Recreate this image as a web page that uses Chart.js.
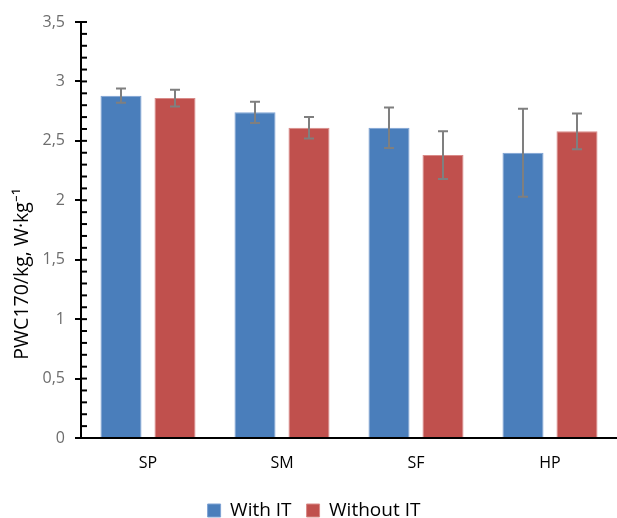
<!DOCTYPE html>
<html>
<head>
<meta charset="utf-8">
<script src="https://cdn.jsdelivr.net/npm/chart.js@4"></script>
<style>
  html, body { margin: 0; padding: 0; background: #fff; }
  #wrap { width: 617px; height: 518px; }
</style>
</head>
<body>
<div id="wrap"><canvas id="pwcChart" width="617" height="518"></canvas></div>
<script>
var categories = ['SP', 'SM', 'SF', 'HP'];
var withIT = [2.88, 2.74, 2.61, 2.40];
var withoutIT = [2.86, 2.61, 2.38, 2.58];
var withITErr = [0.06, 0.09, 0.17, 0.37];
var withoutITErr = [0.07, 0.09, 0.20, 0.15];
var yTitle = 'PWC170/kg, W·kg⁻¹';

var FONT = "'Open Sans', 'Liberation Sans', sans-serif";

function isMajor(v) {
    return Math.round(v * 10) % 5 === 0;
}

// error bars, inner tick marks on the y axis, y axis title (sits low, like the original)
var extrasPlugin = {
    id: 'extras',
    afterDatasetsDraw: function(chart) {
        var ctx = chart.ctx;
        var yScale = chart.scales.y;
        var errs = [withITErr, withoutITErr];
        ctx.save();
        ctx.strokeStyle = '#7f7f7f';
        ctx.lineWidth = 2;
        chart.data.datasets.forEach(function(ds, i) {
            var meta = chart.getDatasetMeta(i);
            meta.data.forEach(function(bar, j) {
                var v = ds.data[j];
                var e = errs[i][j];
                var yTop = yScale.getPixelForValue(v + e);
                var yBot = yScale.getPixelForValue(v - e);
                ctx.beginPath();
                ctx.moveTo(bar.x, yTop);
                ctx.lineTo(bar.x, yBot);
                ctx.moveTo(bar.x - 5, yTop);
                ctx.lineTo(bar.x + 5, yTop);
                ctx.moveTo(bar.x - 5, yBot);
                ctx.lineTo(bar.x + 5, yBot);
                ctx.stroke();
            });
        });
        // minor ticks inside the plot
        var x0 = chart.chartArea.left;
        ctx.strokeStyle = '#000';
        ctx.lineWidth = 2;
        yScale.ticks.forEach(function(t) {
            var y = yScale.getPixelForValue(t.value);
            ctx.beginPath();
            ctx.moveTo(x0, y);
            ctx.lineTo(x0 + 6, y);
            ctx.stroke();
        });
        ctx.restore();
    },
    afterDraw: function(chart) {
        var ctx = chart.ctx;
        var yScale = chart.scales.y;
        ctx.save();
        ctx.translate(22, yScale.getPixelForValue(1.38));
        ctx.rotate(-Math.PI / 2);
        ctx.fillStyle = '#000';
        ctx.font = '19.5px ' + FONT;
        ctx.textAlign = 'center';
        ctx.textBaseline = 'middle';
        ctx.fillText(yTitle, 0, 0);
        ctx.restore();
    }
};

var pwcChart = new Chart(document.getElementById('pwcChart').getContext('2d'), {
    type: 'bar',
    data: {
        labels: categories,
        datasets: [{
            label: 'With IT',
            data: withIT,
            backgroundColor: '#4a7ebb',
            borderColor: '#7ea3d4',
            borderWidth: 1
        }, {
            label: 'Without IT',
            data: withoutIT,
            backgroundColor: '#c0504d',
            borderColor: '#d98a88',
            borderWidth: 1
        }]
    },
    options: {
        responsive: false,
        animation: false,
        layout: { padding: { top: 22, right: 0, left: 11, bottom: -12 } },
        datasets: {
            bar: { categoryPercentage: 0.806, barPercentage: 0.76 }
        },
        scales: {
            x: {
                afterFit: function(scale) { scale.height = 48; },
                grid: { display: false },
                border: { display: true, color: '#000', width: 2 },
                ticks: {
                    color: '#000',
                    padding: 8,
                    font: { family: FONT, size: 16 }
                }
            },
            y: {
                min: 0,
                max: 3.5,
                afterFit: function(scale) { scale.width = 70; },
                grid: {
                    drawOnChartArea: false,
                    drawTicks: true,
                    tickLength: 6,
                    lineWidth: 2,
                    color: function(c) {
                        return c.tick && isMajor(c.tick.value) ? '#000' : 'rgba(0,0,0,0)';
                    }
                },
                border: { display: true, color: '#000', width: 2 },
                ticks: {
                    stepSize: 0.1,
                    autoSkip: false,
                    color: '#6d6d6d',
                    padding: 10,
                    font: { family: FONT, size: 16 },
                    callback: function(value) {
                        if (!isMajor(value)) return '';
                        var r = Math.round(value * 10) / 10;
                        return r.toString().replace('.', ',');
                    }
                },
                title: { display: false }
            }
        },
        plugins: {
            legend: {
                position: 'bottom',
                labels: {
                    color: '#000',
                    boxWidth: 13,
                    boxHeight: 13,
                    padding: 15,
                    font: { family: FONT, size: 19 }
                }
            },
            tooltip: { enabled: false }
        }
    },
    plugins: [extrasPlugin]
});
</script>
</body>
</html>
